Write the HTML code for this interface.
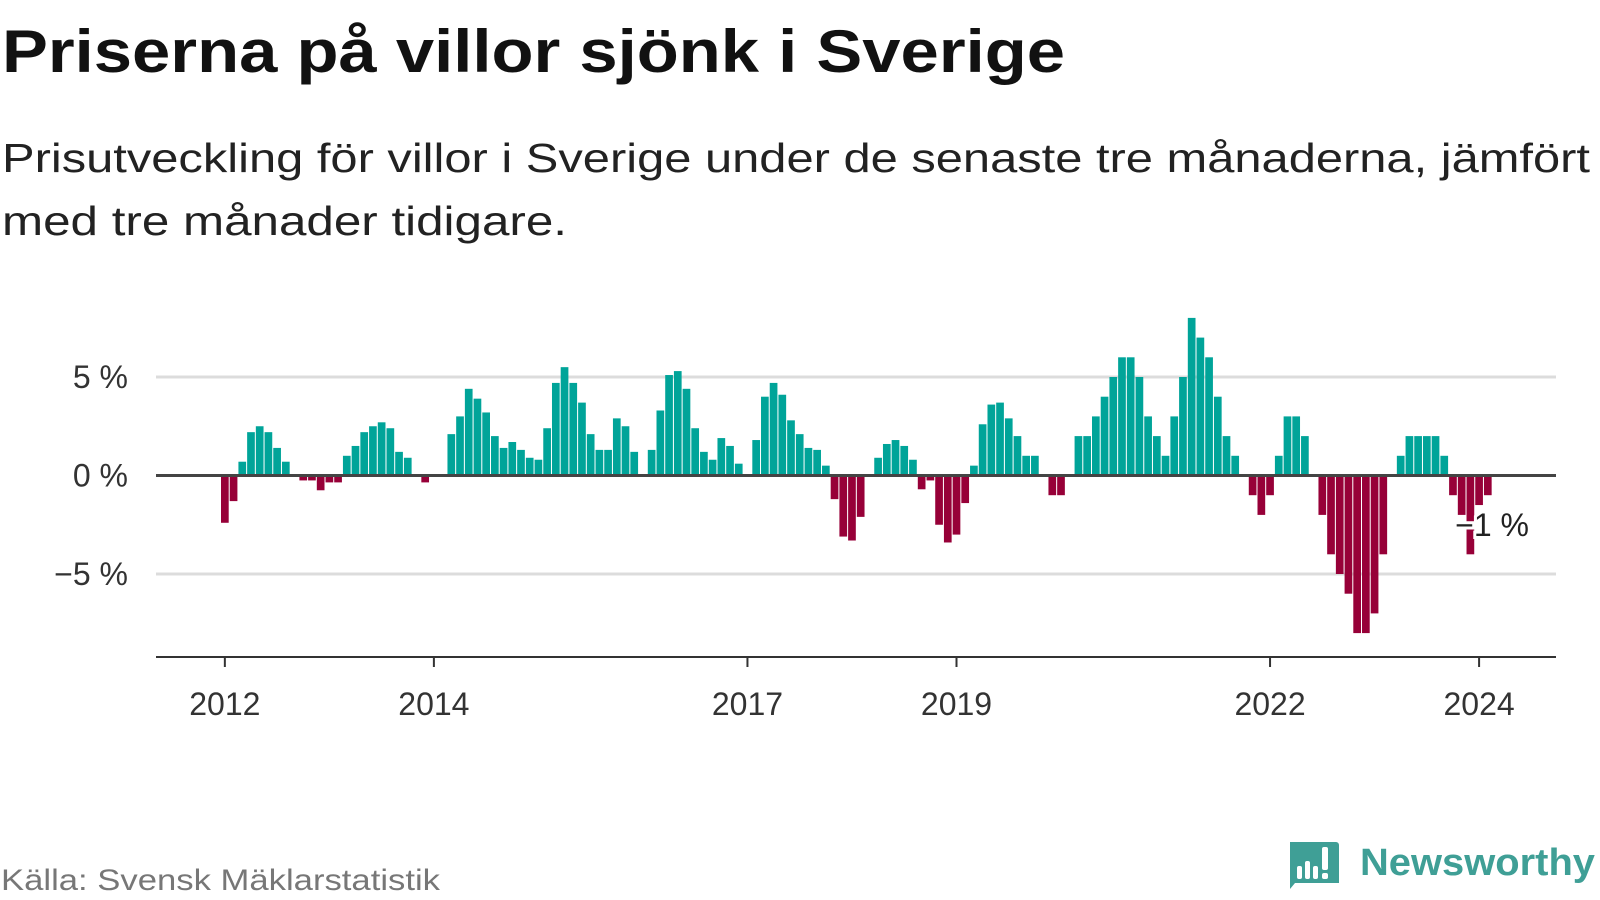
<!DOCTYPE html>
<html><head><meta charset="utf-8">
<style>
html,body{margin:0;padding:0;background:#fff;}
svg{display:block;font-family:"Liberation Sans",sans-serif;}
</style></head>
<body>
<svg id="chart" width="1600" height="900" viewBox="0 0 1600 900">
  <text x="2" y="72" font-size="60" font-weight="bold" fill="#111" textLength="1063" lengthAdjust="spacingAndGlyphs">Priserna på villor sjönk i Sverige</text>
  <text x="2" y="172" font-size="41" fill="#222" textLength="1588" lengthAdjust="spacingAndGlyphs">Prisutveckling för villor i Sverige under de senaste tre månaderna, jämfört</text>
  <text x="2" y="235" font-size="41" fill="#222" textLength="565" lengthAdjust="spacingAndGlyphs">med tre månader tidigare.</text>
  <g id="grid"></g>
  <g id="bars"></g>
  <g id="axes"></g>
  <text x="1" y="890" font-size="30" fill="#777" textLength="439" lengthAdjust="spacingAndGlyphs">Källa: Svensk Mäklarstatistik</text>
  <g>
    <path d="M1290 842 h46 a3 3 0 0 1 3 3 v38 h-44 l-5 6 z" fill="#3f9f96"/>
    <rect x="1297" y="866" width="5" height="13" rx="2" fill="#fff"/>
    <rect x="1305" y="861" width="5" height="18" rx="2" fill="#fff"/>
    <rect x="1313" y="866" width="5" height="13" rx="2" fill="#fff"/>
    <rect x="1322" y="847" width="6" height="23" rx="2" fill="#fff"/>
    <rect x="1322" y="873" width="6" height="6" rx="2" fill="#fff"/>
    <text x="1360" y="875" font-size="38" font-weight="bold" fill="#3f9f96" textLength="235" lengthAdjust="spacingAndGlyphs">Newsworthy</text>
  </g>
</svg>
<script>
const values = [-2.4,-1.3,0.7,2.2,2.5,2.2,1.4,0.7,0,-0.25,-0.25,-0.75,-0.35,-0.35,1.0,1.5,2.2,2.5,2.7,2.4,1.2,0.9,0,-0.35,0,0,
2.1,3.0,4.4,3.9,3.2,2.0,1.4,1.7,1.3,0.9,0.8,2.4,4.7,5.5,4.7,3.7,2.1,1.3,1.3,2.9,2.5,1.2,0,1.3,3.3,5.1,5.3,4.4,2.4,1.2,0.8,1.9,1.5,0.6,0,
1.8,4.0,4.7,4.1,2.8,2.1,1.4,1.3,0.5,-1.2,-3.1,-3.3,-2.1,0,0.9,1.6,1.8,1.5,0.8,-0.7,-0.25,-2.5,-3.4,-3.0,-1.4,0.5,2.6,3.6,3.7,2.9,2.0,1.0,1.0,0,
-1,-1,0,2,2,3,4,5,6,6,5,3,2,1,3,5,8,7,6,4,2,1,0,-1,-2,-1,1,3,3,2,0,-2,-4,-5,-6,-8,-8,-7,-4,0,1,2,2,2,2,1,-1,-2,-4,-1.5,-1];
const tickLabels = ["2012","2014","2017","2019","2022","2024"];
const tickMonths = [0,24,60,84,120,144];
const yTicks = [5,0,-5];
const yTickLabels = ["5 %","0 %","−5 %"];
const lastLabel = "−1 %";

const NS="http://www.w3.org/2000/svg";
const X0=221, P=8.71, BW=7.7;
const xLeft = i => X0 + P*i;
const xCenter = i => X0 + P*i + BW/2;
const y = v => 475.5 - v*19.7;
function mk(tag, attrs, parent){const e=document.createElementNS(NS,tag);for(const k in attrs)e.setAttribute(k,attrs[k]);parent.appendChild(e);return e;}

const grid=document.getElementById('grid');
yTicks.forEach((t,k)=>{
  if(t!==0){
    const l=mk('line',{x1:156,x2:1556,y1:y(t),y2:y(t),stroke:'#dcdcdc','stroke-width':3},grid);
    
    
  }
  const tx=mk('text',{x:128,y:y(t)+11,'font-size':32,fill:'#333','text-anchor':'end'},grid);
  tx.textContent=yTickLabels[k];
  
  
});

const bars=document.getElementById('bars');
values.forEach((v,i)=>{
  if(v===0) return;
  const r=mk('rect',{x:xLeft(i),width:BW,y:Math.min(y(v),y(0)),height:Math.abs(y(v)-y(0)),fill:v>0?'#00a499':'#970038'},bars);
  
  
});

const axes=document.getElementById('axes');
const zl=mk('line',{x1:156,x2:1556,y1:y(0),y2:y(0),stroke:'#444','stroke-width':3},axes);


const xl=mk('line',{x1:156,x2:1556,y1:657,y2:657,stroke:'#333','stroke-width':2},axes);


tickMonths.forEach((m,k)=>{
  const tk=mk('line',{x1:xCenter(m),x2:xCenter(m),y1:657,y2:667,stroke:'#333','stroke-width':2},axes);
  
  
  const tx=mk('text',{x:xCenter(m),y:715,'font-size':32,fill:'#333','text-anchor':'middle'},axes);
  tx.textContent=tickLabels[k];
  
  
});
const li=values.length-1;
const lb=mk('text',{x:1529,y:536,'font-size':32,fill:'#222','text-anchor':'end',stroke:'#fff','stroke-width':6,'paint-order':'stroke'},axes);
lb.textContent=lastLabel;


</script>
</body></html>
